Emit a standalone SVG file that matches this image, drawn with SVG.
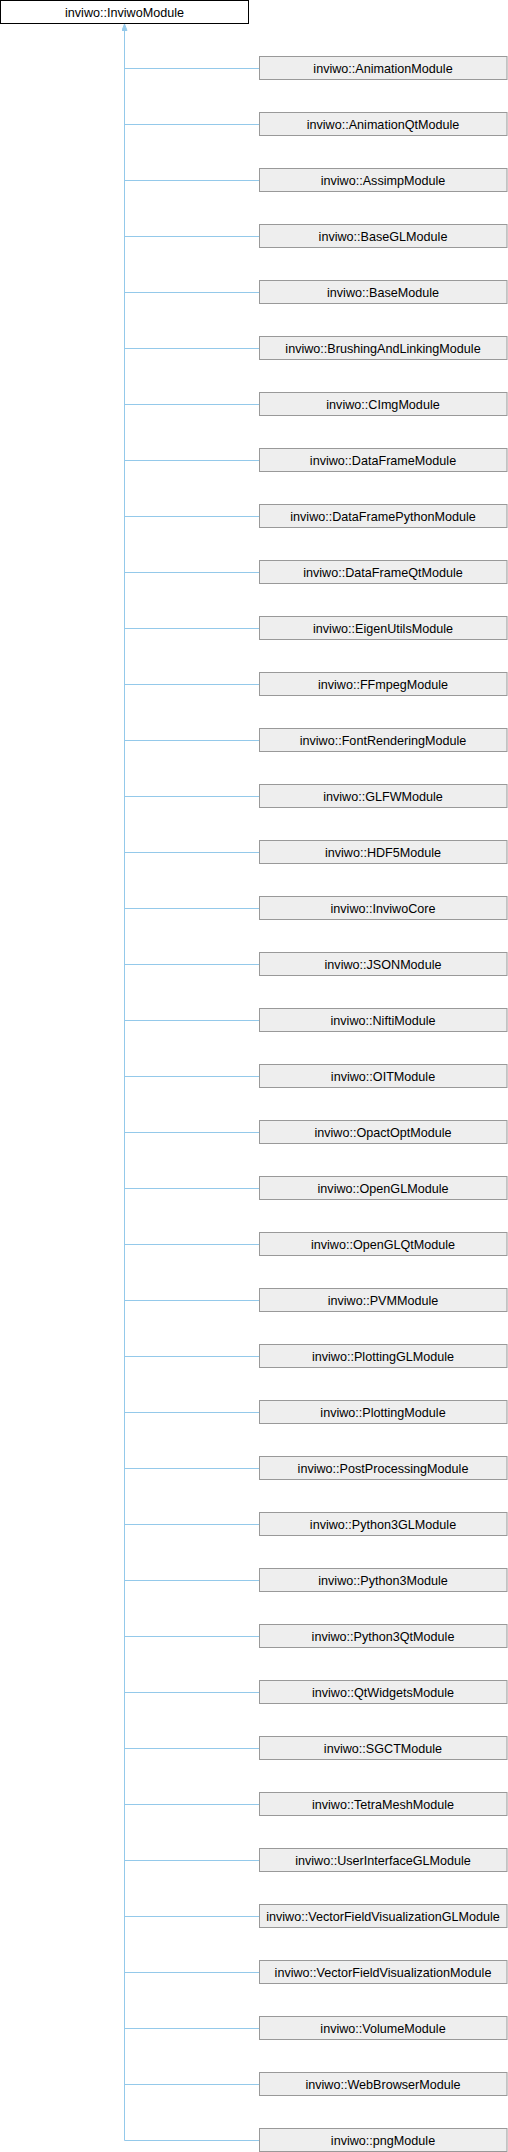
<svg xmlns="http://www.w3.org/2000/svg" width="508" height="2152" viewBox="0 0 508 2152">
<style>
.c rect{fill:#eeeeee;stroke:#999999;stroke-width:1}
.r rect{fill:#ffffff;stroke:#000000;stroke-width:1}
text{font-family:"Liberation Sans",Arial,sans-serif;font-size:12.6px;text-anchor:middle;fill:#000000}
.e{stroke:#94c9ea;stroke-width:1;fill:none}
</style>
<defs>
<marker id="a" markerWidth="6" markerHeight="8" refX="3" refY="0.5" orient="0" markerUnits="userSpaceOnUse">
<path d="M0.5,7 L3,0.5 L5.5,7 Z" fill="#94c9ea" stroke="#94c9ea" stroke-width="1"/>
</marker>
</defs>
<g id="edges">
<path class="e" d="M124.5,2140.5 V24" marker-end="url(#a)"/>
<path class="e" d="M124.5,68.5H259M124.5,124.5H259M124.5,180.5H259M124.5,236.5H259M124.5,292.5H259M124.5,348.5H259M124.5,404.5H259M124.5,460.5H259M124.5,516.5H259M124.5,572.5H259M124.5,628.5H259M124.5,684.5H259M124.5,740.5H259M124.5,796.5H259M124.5,852.5H259M124.5,908.5H259M124.5,964.5H259M124.5,1020.5H259M124.5,1076.5H259M124.5,1132.5H259M124.5,1188.5H259M124.5,1244.5H259M124.5,1300.5H259M124.5,1356.5H259M124.5,1412.5H259M124.5,1468.5H259M124.5,1524.5H259M124.5,1580.5H259M124.5,1636.5H259M124.5,1692.5H259M124.5,1748.5H259M124.5,1804.5H259M124.5,1860.5H259M124.5,1916.5H259M124.5,1972.5H259M124.5,2028.5H259M124.5,2084.5H259M124.5,2140.5H259"/>
</g>
<g id="root" class="r"><rect x="0.5" y="0.5" width="248" height="23"/><text x="124.5" y="16.5">inviwo::InviwoModule</text></g>
<g id="n1" class="c"><rect x="259.5" y="56.5" width="247.5" height="23"/><text x="383" y="72.5">inviwo::AnimationModule</text></g>
<g id="n2" class="c"><rect x="259.5" y="112.5" width="247.5" height="23"/><text x="383" y="128.5">inviwo::AnimationQtModule</text></g>
<g id="n3" class="c"><rect x="259.5" y="168.5" width="247.5" height="23"/><text x="383" y="184.5">inviwo::AssimpModule</text></g>
<g id="n4" class="c"><rect x="259.5" y="224.5" width="247.5" height="23"/><text x="383" y="240.5">inviwo::BaseGLModule</text></g>
<g id="n5" class="c"><rect x="259.5" y="280.5" width="247.5" height="23"/><text x="383" y="296.5">inviwo::BaseModule</text></g>
<g id="n6" class="c"><rect x="259.5" y="336.5" width="247.5" height="23"/><text x="383" y="352.5">inviwo::BrushingAndLinkingModule</text></g>
<g id="n7" class="c"><rect x="259.5" y="392.5" width="247.5" height="23"/><text x="383" y="408.5">inviwo::CImgModule</text></g>
<g id="n8" class="c"><rect x="259.5" y="448.5" width="247.5" height="23"/><text x="383" y="464.5">inviwo::DataFrameModule</text></g>
<g id="n9" class="c"><rect x="259.5" y="504.5" width="247.5" height="23"/><text x="383" y="520.5">inviwo::DataFramePythonModule</text></g>
<g id="n10" class="c"><rect x="259.5" y="560.5" width="247.5" height="23"/><text x="383" y="576.5">inviwo::DataFrameQtModule</text></g>
<g id="n11" class="c"><rect x="259.5" y="616.5" width="247.5" height="23"/><text x="383" y="632.5">inviwo::EigenUtilsModule</text></g>
<g id="n12" class="c"><rect x="259.5" y="672.5" width="247.5" height="23"/><text x="383" y="688.5">inviwo::FFmpegModule</text></g>
<g id="n13" class="c"><rect x="259.5" y="728.5" width="247.5" height="23"/><text x="383" y="744.5">inviwo::FontRenderingModule</text></g>
<g id="n14" class="c"><rect x="259.5" y="784.5" width="247.5" height="23"/><text x="383" y="800.5">inviwo::GLFWModule</text></g>
<g id="n15" class="c"><rect x="259.5" y="840.5" width="247.5" height="23"/><text x="383" y="856.5">inviwo::HDF5Module</text></g>
<g id="n16" class="c"><rect x="259.5" y="896.5" width="247.5" height="23"/><text x="383" y="912.5">inviwo::InviwoCore</text></g>
<g id="n17" class="c"><rect x="259.5" y="952.5" width="247.5" height="23"/><text x="383" y="968.5">inviwo::JSONModule</text></g>
<g id="n18" class="c"><rect x="259.5" y="1008.5" width="247.5" height="23"/><text x="383" y="1024.5">inviwo::NiftiModule</text></g>
<g id="n19" class="c"><rect x="259.5" y="1064.5" width="247.5" height="23"/><text x="383" y="1080.5">inviwo::OITModule</text></g>
<g id="n20" class="c"><rect x="259.5" y="1120.5" width="247.5" height="23"/><text x="383" y="1136.5">inviwo::OpactOptModule</text></g>
<g id="n21" class="c"><rect x="259.5" y="1176.5" width="247.5" height="23"/><text x="383" y="1192.5">inviwo::OpenGLModule</text></g>
<g id="n22" class="c"><rect x="259.5" y="1232.5" width="247.5" height="23"/><text x="383" y="1248.5">inviwo::OpenGLQtModule</text></g>
<g id="n23" class="c"><rect x="259.5" y="1288.5" width="247.5" height="23"/><text x="383" y="1304.5">inviwo::PVMModule</text></g>
<g id="n24" class="c"><rect x="259.5" y="1344.5" width="247.5" height="23"/><text x="383" y="1360.5">inviwo::PlottingGLModule</text></g>
<g id="n25" class="c"><rect x="259.5" y="1400.5" width="247.5" height="23"/><text x="383" y="1416.5">inviwo::PlottingModule</text></g>
<g id="n26" class="c"><rect x="259.5" y="1456.5" width="247.5" height="23"/><text x="383" y="1472.5">inviwo::PostProcessingModule</text></g>
<g id="n27" class="c"><rect x="259.5" y="1512.5" width="247.5" height="23"/><text x="383" y="1528.5">inviwo::Python3GLModule</text></g>
<g id="n28" class="c"><rect x="259.5" y="1568.5" width="247.5" height="23"/><text x="383" y="1584.5">inviwo::Python3Module</text></g>
<g id="n29" class="c"><rect x="259.5" y="1624.5" width="247.5" height="23"/><text x="383" y="1640.5">inviwo::Python3QtModule</text></g>
<g id="n30" class="c"><rect x="259.5" y="1680.5" width="247.5" height="23"/><text x="383" y="1696.5">inviwo::QtWidgetsModule</text></g>
<g id="n31" class="c"><rect x="259.5" y="1736.5" width="247.5" height="23"/><text x="383" y="1752.5">inviwo::SGCTModule</text></g>
<g id="n32" class="c"><rect x="259.5" y="1792.5" width="247.5" height="23"/><text x="383" y="1808.5">inviwo::TetraMeshModule</text></g>
<g id="n33" class="c"><rect x="259.5" y="1848.5" width="247.5" height="23"/><text x="383" y="1864.5">inviwo::UserInterfaceGLModule</text></g>
<g id="n34" class="c"><rect x="259.5" y="1904.5" width="247.5" height="23"/><text x="383" y="1920.5">inviwo::VectorFieldVisualizationGLModule</text></g>
<g id="n35" class="c"><rect x="259.5" y="1960.5" width="247.5" height="23"/><text x="383" y="1976.5">inviwo::VectorFieldVisualizationModule</text></g>
<g id="n36" class="c"><rect x="259.5" y="2016.5" width="247.5" height="23"/><text x="383" y="2032.5">inviwo::VolumeModule</text></g>
<g id="n37" class="c"><rect x="259.5" y="2072.5" width="247.5" height="23"/><text x="383" y="2088.5">inviwo::WebBrowserModule</text></g>
<g id="n38" class="c"><rect x="259.5" y="2128.5" width="247.5" height="23"/><text x="383" y="2144.5">inviwo::pngModule</text></g>
</svg>
